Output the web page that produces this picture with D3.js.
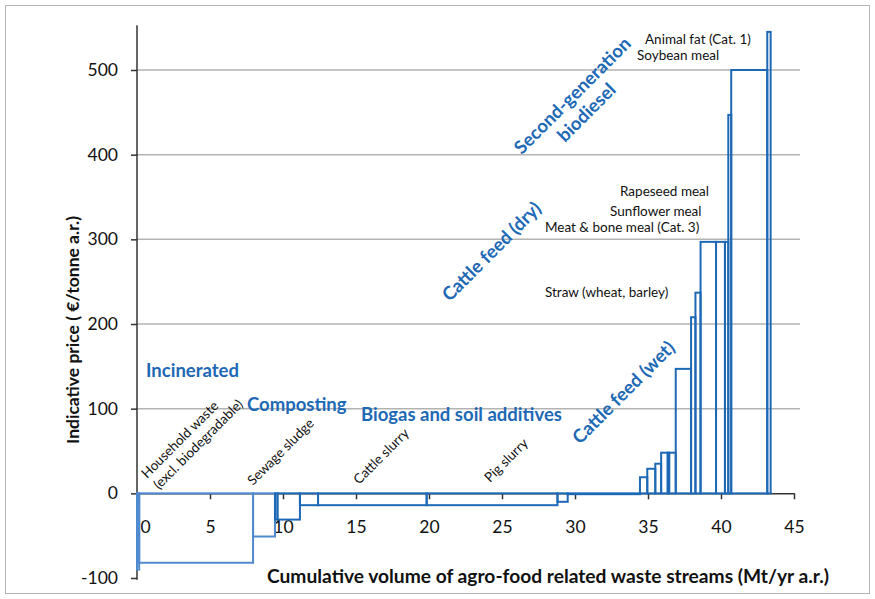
<!DOCTYPE html>
<html>
<head>
<meta charset="utf-8">
<script src="https://d3js.org/d3.v7.min.js"></script>
<style>
  body { margin: 0; background: #fff; }
  svg { display: block; font-family: Lato, "Open Sans", sans-serif; }
</style>
</head>
<body>
<svg width="875" height="599"></svg>
<script>
// DATA
// volume of each waste stream (Mt/yr), in merit order, and its indicative price (EUR/t)
const volumes = [0.15, 7.8, 1.5, 0.17, 1.54, 1.24, 7.44, 8.96, 0.7, 4.95,
  0.5, 0.55, 0.4, 0.45, 0.1, 0.45, 1.05, 0.3, 0.35, 1.06, 0.61, 0.23, 0.2, 2.47, 0.23];
const prices = [-90, -82, -51, -31, -31, -14, -14, -14, -10, -1,
  19, 29, 35, 48, 48, 48, 147, 208, 237, 297, 297, 297, 447, 500, 545];

const xTicks = [0, 5, 10, 15, 20, 25, 30, 35, 40, 45];
const yTicks = [-100, 0, 100, 200, 300, 400, 500];
const gridValues = [100, 200, 300, 400, 500];

const xTitle = "Cumulative volume of agro-food related waste streams (Mt/yr a.r.)";
const yTitle = "Indicative price ( \u20ac/tonne a.r.)";

// SETUP
let svg = d3.select("svg");

const blue = "#1d69b5";
const lightBlue = "#4f89cf";

const xScale = d3.scaleLinear().domain([0, 45]).range([137, 794]);
const yScale = d3.scaleLinear().domain([-100, 500]).range([578, 70]);

// cumulative start / end of every stream
const ends = Array.from(d3.cumsum(volumes));
const streams = volumes.map((v, i) => ({
  x0: ends[i] - v,
  x1: ends[i],
  price: prices[i],
}));

// outer frame
svg.append("rect")
  .attr("x", 5.5).attr("y", 5.5)
  .attr("width", 864).attr("height", 588)
  .attr("fill", "none")
  .attr("stroke", "#b4b4b4")
  .attr("stroke-width", 1);

// gridlines
svg.append("g")
  .selectAll("line")
  .data(gridValues)
  .enter()
  .append("line")
  .attr("x1", xScale(0))
  .attr("x2", 800)
  .attr("y1", (d) => yScale(d))
  .attr("y2", (d) => yScale(d))
  .attr("stroke", "#b3b3b3")
  .attr("stroke-width", 1.5);

// y axis (plain hyphen for negatives, like the original)
const yAxis = d3.axisLeft(yScale).tickValues(yTicks).tickFormat((d) => String(d))
  .tickSize(6).tickPadding(13).tickSizeOuter(0);
const gy = svg.append("g")
  .attr("transform", `translate(${xScale(0)},0)`)
  .call(yAxis);
gy.select(".domain").remove();
gy.append("line")
  .attr("x1", 0).attr("x2", 0)
  .attr("y1", yScale(553)).attr("y2", yScale(-102))
  .attr("stroke", "#333").attr("stroke-width", 1.5);
gy.selectAll(".tick line").attr("stroke", "#333").attr("stroke-width", 1.5);
gy.selectAll(".tick text").attr("font-size", 17.5).attr("fill", "#111")
  .attr("font-family", "Lato, sans-serif");

// x axis
const xAxis = d3.axisBottom(xScale).tickValues(xTicks).tickSize(6).tickPadding(21).tickSizeOuter(0);
const gx = svg.append("g")
  .attr("transform", `translate(0,${yScale(0)})`)
  .call(xAxis);
gx.select(".domain").attr("stroke", "#333").attr("stroke-width", 1.5);
gx.selectAll(".tick line").attr("stroke", "#333").attr("stroke-width", 1.5);
gx.selectAll(".tick text").attr("font-size", 17.5).attr("fill", "#111")
  .attr("font-family", "Lato, sans-serif")
  .attr("dx", (d) => (d === 0 ? 8 : 0));

// stream rectangles
svg.append("g")
  .selectAll("rect")
  .data(streams)
  .enter()
  .append("rect")
  .attr("x", (d) => xScale(d.x0))
  .attr("width", (d) => xScale(d.x1) - xScale(d.x0))
  .attr("y", (d) => yScale(Math.max(d.price, 0)))
  .attr("height", (d) => Math.abs(yScale(d.price) - yScale(0)))
  .attr("fill", "none")
  .attr("stroke", (d) => (d.price < -40 ? lightBlue : blue))
  .attr("stroke-width", 2);

// axis titles
svg.append("text")
  .attr("x", 548).attr("y", 583)
  .attr("text-anchor", "middle")
  .attr("font-size", 19.2).attr("font-weight", "bold").attr("fill", "#111")
  .text(xTitle);

svg.append("text")
  .attr("transform", "translate(79,330) rotate(-90)")
  .attr("text-anchor", "middle")
  .attr("font-size", 17.5).attr("font-weight", "bold").attr("fill", "#111")
  .text(yTitle);

// blue category labels
const blueLabel = (txt, x, y, angle) =>
  svg.append("text")
    .attr("transform", `translate(${x},${y}) rotate(${angle})`)
    .attr("text-anchor", angle ? "middle" : "start")
    .attr("font-size", 18.5).attr("font-weight", "bold").attr("fill", blue)
    .text(txt);

blueLabel("Incinerated", 146, 377, 0);
blueLabel("Composting", 247, 411, 0);
blueLabel("Biogas and soil additives", 361, 421, 0);
blueLabel("Cattle feed (wet)", 628, 397, -45);
blueLabel("Cattle feed (dry)", 496, 256, -45);
blueLabel("Second-generation", 577, 100, -45);
blueLabel("biodiesel", 591, 117, -45);

// black stream labels
const smallLabel = (txt, x, y, angle) =>
  svg.append("text")
    .attr("transform", `translate(${x},${y}) rotate(${angle})`)
    .attr("font-size", 13.5).attr("fill", "#111")
    .text(txt);

smallLabel("Household waste", 147, 479, -45);
smallLabel("(excl. biodegradable)", 159, 490, -45);
smallLabel("Sewage sludge", 253, 486, -45);
smallLabel("Cattle slurry", 359, 485, -45);
smallLabel("Pig slurry", 490, 483, -45);

smallLabel("Animal fat (Cat. 1)", 645, 44, 0);
smallLabel("Soybean meal", 637, 60, 0);
smallLabel("Rapeseed meal", 620, 196, 0);
smallLabel("Sunflower meal", 610, 216, 0);
smallLabel("Meat & bone meal (Cat. 3)", 545, 232, 0);
smallLabel("Straw (wheat, barley)", 545, 297, 0);
</script>
</body>
</html>
